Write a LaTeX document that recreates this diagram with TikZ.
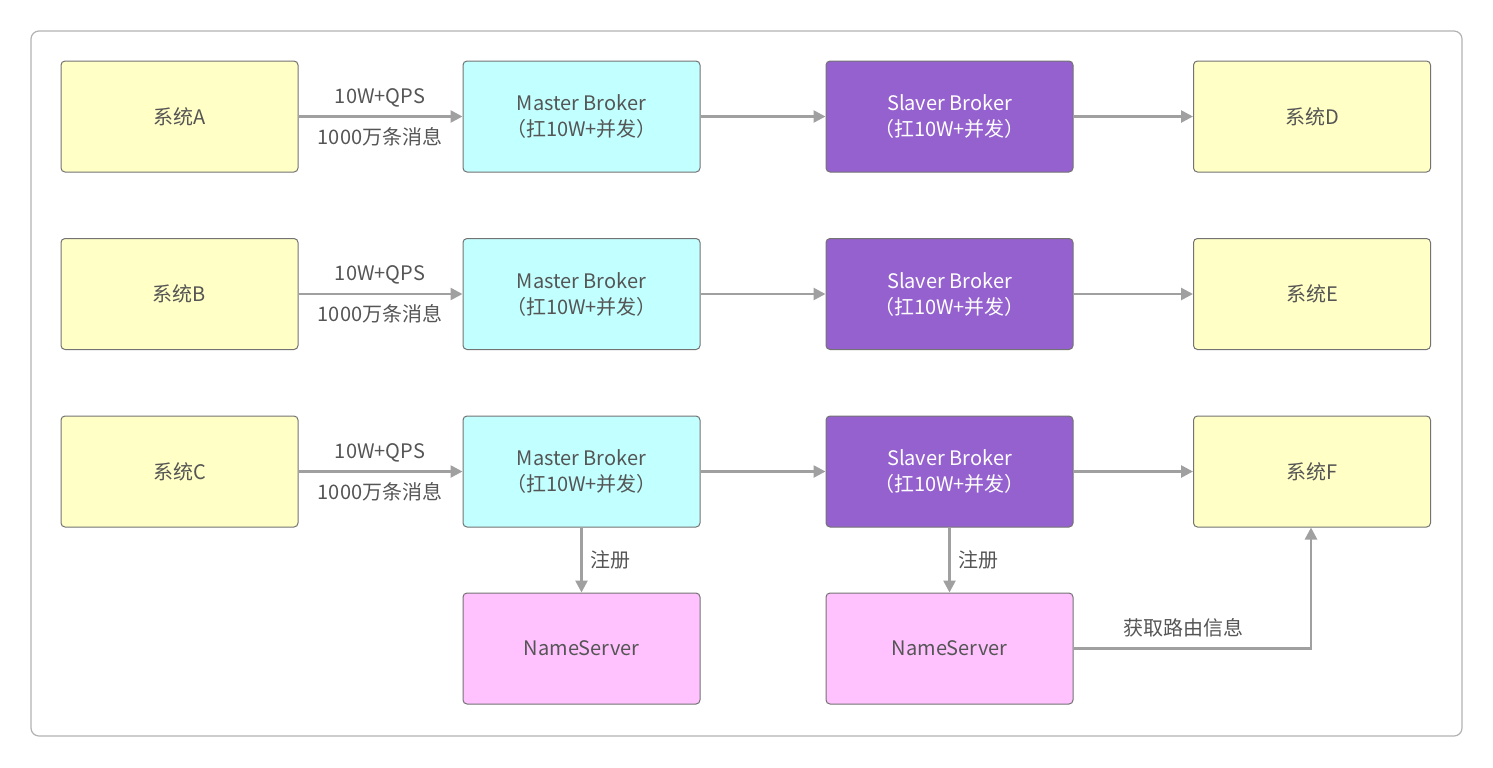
\documentclass[tikz,border=0pt]{standalone}
\usepackage{fontspec}
\setmainfont{Noto Sans CJK SC}
\usetikzlibrary{arrows.meta}
\definecolor{ye}{HTML}{FFFFC6}
\definecolor{cy}{HTML}{C2FFFF}
\definecolor{pu}{HTML}{9561CF}
\definecolor{pk}{HTML}{FFC2FF}
\definecolor{tx}{HTML}{555555}
\definecolor{ar}{HTML}{A0A0A0}
\begin{document}
\begin{tikzpicture}[x=0.5pt,y=-0.5pt,
 box/.style={draw=black!55,line width=0.5pt,rounded corners=2pt,minimum width=118.5pt,minimum height=55.5pt,inner sep=0pt,align=center,font=\fontsize{10}{13}\selectfont,text=tx},
 sys/.style={box,fill=ye},
 ma/.style={box,fill=cy},
 sl/.style={box,fill=pu,text=white,minimum width=123.5pt},
 ns/.style={box,fill=pk},
 arr/.style={draw=ar,line width=1.3pt,-{Triangle[length=6pt,width=6pt]}},
 lab/.style={text=tx,font=\fontsize{10}{12}\selectfont,inner sep=1pt}]
\useasboundingbox (0,0) rectangle (1493,767);
\draw[black!30,line width=0.6pt,rounded corners=4pt] (31,31) rectangle (1462,736);
\foreach \r/\y/\a/\b in {1/116.5/A/D,2/294/B/E,3/471.5/C/F}{
 \node[sys] (s\r) at (179.5,\y) {系统\a};
 \node[ma] (m\r) at (581.5,\y) {Master Broker\\（扛10W+并发）};
 \node[sl] (l\r) at (949.5,\y) {Slaver Broker\\（扛10W+并发）};
 \node[sys] (t\r) at (1312,\y) {系统\b};
 \draw[arr] (s\r) -- (m\r);
 \draw[arr] (m\r) -- (l\r);
 \draw[arr] (l\r) -- (t\r);
 \node[lab] at (380,\y-19) {10W+QPS};
 \node[lab] at (380,\y+20) {1000万条消息};
}
\node[ns] (n1) at (581.5,648.5) {NameServer};
\node[ns,minimum width=123.5pt] (n2) at (949.5,648.5) {NameServer};
\draw[arr] (m3) -- (n1) node[lab,midway,right=3pt] {注册};
\draw[arr] (l3) -- (n2) node[lab,midway,right=3pt] {注册};
\coordinate (c) at (1311,648.5);
\draw[arr] (n2) -- (c) -- (c|-t3.south);
\node[lab] at (1183,628) {获取路由信息};
\end{tikzpicture}
\end{document}
